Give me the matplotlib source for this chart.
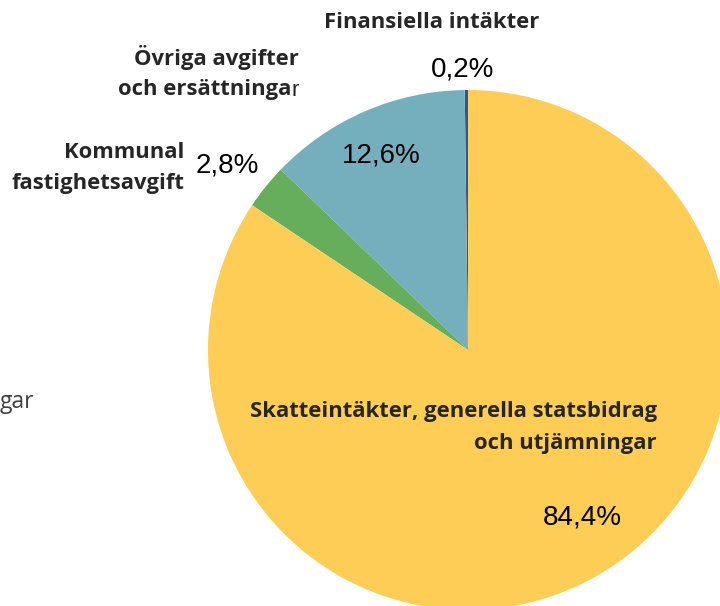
import matplotlib
matplotlib.use("Agg")
import matplotlib.pyplot as plt

categories = ["Finansiella intäkter", "Övriga avgifter och ersättningar",
              "Kommunal fastighetsavgift",
              "Skatteintäkter, generella statsbidrag och utjämningar"]
values = [0.2, 12.6, 2.8, 84.4]
colors = ["#2E55A0", "#75AFBE", "#66AD5C", "#FDCD55"]

W, H = 720, 606
fig = plt.figure(figsize=(W / 100, H / 100), dpi=100)

cx, cy, r = 468, 350, 260
ax = fig.add_axes([(cx - r) / W, (H - cy - r) / H, 2 * r / W, 2 * r / H])
ax.pie(values, colors=colors, startangle=90, counterclock=True,
       wedgeprops=dict(linewidth=0))
ax.set_xlim(-1, 1)
ax.set_ylim(-1, 1)
ax.axis("off")


def px(x, y):
    return x / W, 1 - y / H


LABEL_FONT = dict(family=["Open Sans", "DejaVu Sans"], fontweight="bold",
                  fontsize=15.8, color="#262626")
PCT_FONT = dict(family=["Liberation Sans", "DejaVu Sans"], fontsize=20,
                color="#000000")


def pct(v):
    return f"{v:.1f}".replace(".", ",") + "%"


# Labels
fig.text(*px(432, 23), "Finansiella intäkter", ha="center", va="center", **LABEL_FONT)
fig.text(*px(299, 58), "Övriga avgifter", ha="right", va="center", **LABEL_FONT)
r_txt = fig.text(*px(299, 90), "r", ha="right", va="center",
                 family=["Liberation Sans"], fontsize=16, color="#262626")
fig.canvas.draw()
bb = r_txt.get_window_extent()
fig.text(bb.x0 / W, 1 - 90 / H, "och ersättninga", ha="right", va="center", **LABEL_FONT)
fig.text(*px(184, 153), "Kommunal", ha="right", va="center", **LABEL_FONT)
fig.text(*px(184, 184), "fastighetsavgift", ha="right", va="center", **LABEL_FONT)
fig.text(*px(657, 412), "Skatteintäkter, generella statsbidrag", ha="right",
         va="center", **LABEL_FONT)
fig.text(*px(657, 443), "och utjämningar", ha="right", va="center", **LABEL_FONT)

# visible tail of a label cut off at the left edge
fig.text(*px(0, 402), "gar", ha="left", va="center",
         family=["Open Sans", "DejaVu Sans"], fontsize=16.5, color="#404040")

# Percentages
fig.text(*px(463, 70), pct(values[0]), ha="center", va="center", **PCT_FONT)
fig.text(*px(381, 156), pct(values[1]), ha="center", va="center", **PCT_FONT)
fig.text(*px(227, 166), pct(values[2]), ha="center", va="center", **PCT_FONT)
fig.text(*px(582, 517), pct(values[3]), ha="center", va="center", **PCT_FONT)

fig.savefig("out.png", dpi=100)
